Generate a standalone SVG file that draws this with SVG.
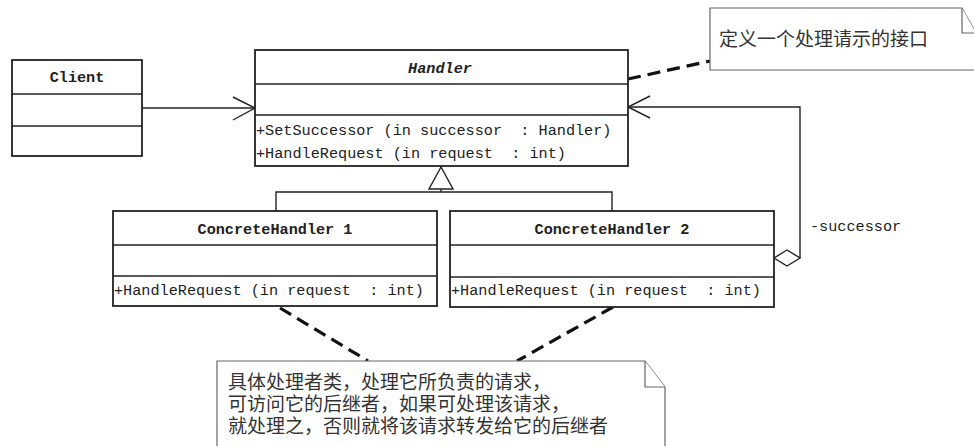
<svg xmlns="http://www.w3.org/2000/svg" width="974" height="446" viewBox="0 0 974 446">
<style>
.box{fill:#fff;stroke:#222;stroke-width:1.8}
.div{stroke:#222;stroke-width:1.6}
.t{font-family:"Liberation Mono","DejaVu Sans Mono",monospace;font-size:15.2px;fill:#222;white-space:pre}
.b{font-weight:bold}
.c{text-anchor:middle}
.cn{font-family:"Noto Sans CJK SC","Noto Sans",sans-serif;font-size:19px;fill:#333}
.ln{fill:none;stroke:#222;stroke-width:1.4}
.dash{fill:none;stroke:#111;stroke-width:3.2;stroke-dasharray:13,7}
.note{fill:#fff;stroke:#666;stroke-width:1.2}
</style>
<rect width="974" height="446" fill="#fff"/>
<g id="connectors">
  <line class="ln" x1="142" y1="108" x2="254" y2="108"/>
  <polyline class="ln" points="233,97 255,108 233,120"/>
  <polyline class="ln" points="276,211 276,192 612,192 612,211"/>
  <line class="ln" x1="441" y1="189" x2="441" y2="192"/>
  <polygon points="441,167 429,189 453,189" fill="#fff" stroke="#222" stroke-width="1.4"/>
  <polyline class="ln" points="800,258 800,107 629,107"/>
  <polyline class="ln" points="650,96 628,107 650,118"/>
  <polygon points="774,258 787,250 800,258 787,266" fill="#fff" stroke="#222" stroke-width="1.4"/>
  <text class="t" x="810" y="231">-successor</text>
  <line class="dash" x1="628" y1="79" x2="710" y2="61"/>
  <line class="dash" x1="280" y1="308" x2="368" y2="361"/>
  <line class="dash" x1="613" y1="307" x2="517" y2="361"/>
</g>
<g id="client">
  <rect class="box" x="12" y="60" width="130" height="96"/>
  <line class="div" x1="12" y1="94" x2="142" y2="94"/>
  <line class="div" x1="12" y1="126" x2="142" y2="126"/>
  <text class="t b c" x="77" y="82">Client</text>
</g>
<g id="handler">
  <rect class="box" x="255" y="50" width="373" height="116"/>
  <line class="div" x1="255" y1="84" x2="628" y2="84"/>
  <line class="div" x1="255" y1="115" x2="628" y2="115"/>
  <text class="t b c" x="440" y="73" font-style="italic">Handler</text>
  <text class="t" x="256" y="135" xml:space="preserve">+SetSuccessor (in successor  : Handler)</text>
  <text class="t" x="256" y="158" xml:space="preserve">+HandleRequest (in request  : int)</text>
</g>
<g id="concrete1">
  <rect class="box" x="113" y="211" width="324" height="95"/>
  <line class="div" x1="113" y1="245" x2="437" y2="245"/>
  <line class="div" x1="113" y1="276" x2="437" y2="276"/>
  <text class="t b c" x="275" y="234">ConcreteHandler 1</text>
  <text class="t" x="114" y="295" xml:space="preserve">+HandleRequest (in request  : int)</text>
</g>
<g id="concrete2">
  <rect class="box" x="450" y="211" width="324" height="96"/>
  <line class="div" x1="450" y1="245" x2="774" y2="245"/>
  <line class="div" x1="450" y1="277" x2="774" y2="277"/>
  <text class="t b c" x="612" y="234">ConcreteHandler 2</text>
  <text class="t" x="451" y="295" xml:space="preserve">+HandleRequest (in request  : int)</text>
</g>
<g id="note-interface">
  <polygon class="note" points="710,8 962,8 976,33 976,70 710,70"/>
  <polyline class="note" points="962,8 962,33 976,33" fill="none"/>
  <text class="cn" x="719" y="46">定义一个处理请示的接口</text>
</g>
<g id="note-concrete">
  <polygon class="note" points="217,361 645,361 665,387 665,450 217,450"/>
  <polyline class="note" points="645,361 645,387 665,387" fill="none"/>
  <text class="cn" x="228" y="389">具体处理者类，处理它所负责的请求，</text>
  <text class="cn" x="228" y="411">可访问它的后继者，如果可处理该请求，</text>
  <text class="cn" x="228" y="433">就处理之，否则就将该请求转发给它的后继者</text>
</g>
</svg>
